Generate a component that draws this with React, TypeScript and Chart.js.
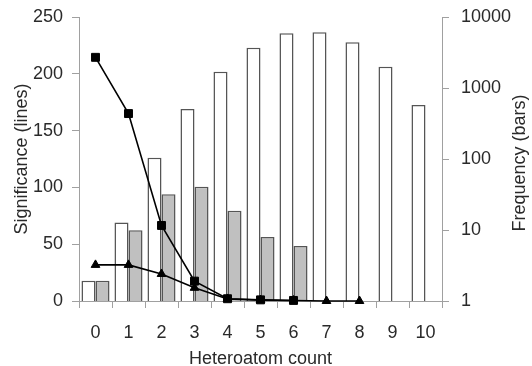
import React, { useEffect, useRef } from "react";
import { Chart, registerables } from "chart.js";

Chart.register(...registerables);

const categories = ["0", "1", "2", "3", "4", "5", "6", "7", "8", "9", "10"];
const freqAll = [1.93, 12.8, 104, 506, 1700, 3700, 5900, 6100, 4400, 2000, 576];
const freqSubset = [1.93, 9.9, 32, 40.5, 18.6, 7.95, 5.94, null, null, null, null];
const sigSquares = [214.5, 165, 66.5, 17.5, 2, 1, 0.5, null, null, null, null];
const sigTriangles = [31.8, 31.8, 23.8, 11.6, 1.8, 0.8, 0.4, 0, 0, null, null];
const leftTicks = [0, 50, 100, 150, 200, 250];
const rightTicks = [1, 10, 100, 1000, 10000];
const rightTitle = "Frequency (bars)";

const FONT = "'Liberation Sans', Arial, sans-serif";
const TEXT = "#2a2a2a";
const AXIS = "#a0a0a0";

const rightTitlePlugin = {
  id: "rightTitle",
  afterDraw(chart: any) {
    const { ctx, chartArea } = chart;
    ctx.save();
    ctx.translate(520.5, (chartArea.top + chartArea.bottom) / 2 + 4);
    ctx.rotate(-Math.PI / 2);
    ctx.font = `18px ${FONT}`;
    ctx.fillStyle = TEXT;
    ctx.textAlign = "center";
    ctx.textBaseline = "middle";
    ctx.fillText(rightTitle, 0, 0);
    ctx.restore();
  },
};

export default function App() {
  const ref = useRef<HTMLCanvasElement | null>(null);
  useEffect(() => {
    if (!ref.current) return;
    const chart = new Chart(ref.current, {
      type: "bar",
      data: {
        labels: categories,
        datasets: [
          {
            type: "line",
            data: sigSquares,
            yAxisID: "y",
            borderColor: "#000",
            borderWidth: 1.6,
            pointStyle: "rect",
            pointRadius: 5.6,
            pointBackgroundColor: "#000",
            pointBorderColor: "#000",
            pointBorderWidth: 1,
            order: 0,
            clip: false,
          } as any,
          {
            type: "line",
            data: sigTriangles,
            yAxisID: "y",
            borderColor: "#000",
            borderWidth: 1.6,
            pointStyle: "triangle",
            pointRadius: 5,
            pointBackgroundColor: "#000",
            pointBorderColor: "#000",
            pointBorderWidth: 1,
            order: 0,
            clip: false,
          } as any,
          {
            type: "bar",
            data: freqAll,
            yAxisID: "y1",
            backgroundColor: "#ffffff",
            borderColor: "#555555",
            borderWidth: 1.5,
            categoryPercentage: 0.85,
            barPercentage: 1,
            order: 1,
          },
          {
            type: "bar",
            data: freqSubset,
            yAxisID: "y1",
            backgroundColor: "#c0c0c0",
            borderColor: "#555555",
            borderWidth: 1.5,
            categoryPercentage: 0.85,
            barPercentage: 1,
            order: 1,
          },
        ],
      },
      options: {
        responsive: false,
        animation: false,
        layout: { padding: { top: 17, left: 0, right: 0, bottom: 0 } },
        plugins: { legend: { display: false }, tooltip: { enabled: false } },
        scales: {
          x: {
            offset: true,
            grid: {
              offset: true,
              drawOnChartArea: false,
              color: AXIS,
              tickLength: 7,
            },
            border: { color: AXIS, width: 1 },
            ticks: { color: TEXT, font: { family: FONT, size: 18 }, padding: 14, maxRotation: 0 },
            title: {
              display: true,
              text: "Heteroatom count",
              color: TEXT,
              font: { family: FONT, size: 18 },
              padding: { top: 0, bottom: -4 },
            },
            afterFit: (s: any) => {
              s.height = 65;
            },
          },
          y: {
            position: "left",
            min: 0,
            max: 250,
            afterBuildTicks: (s: any) => {
              s.ticks = leftTicks.map((v) => ({ value: v }));
            },
            grid: { drawOnChartArea: false, color: AXIS, tickLength: 7 },
            border: { color: AXIS, width: 1 },
            ticks: { color: TEXT, font: { family: FONT, size: 18 }, padding: 9 },
            title: {
              display: true,
              text: "Significance (lines)",
              color: TEXT,
              font: { family: FONT, size: 18 },
              padding: { top: 11, bottom: 0 },
            },
            afterFit: (s: any) => {
              s.width = 79;
              s.paddingTop = 0;
              s.paddingBottom = 0;
            },
          },
          y1: {
            type: "logarithmic",
            position: "right",
            min: 1,
            max: 10000,
            afterBuildTicks: (s: any) => {
              s.ticks = rightTicks.map((v) => ({ value: v }));
            },
            grid: { drawOnChartArea: false, color: AXIS, tickLength: 7 },
            border: { color: AXIS, width: 1 },
            ticks: {
              color: TEXT,
              font: { family: FONT, size: 18 },
              padding: 12,
              callback: (v: any) => String(v),
            },
            title: { display: false },
            afterFit: (s: any) => {
              s.width = 90;
              s.paddingTop = 0;
              s.paddingBottom = 0;
            },
          },
        },
      },
      plugins: [rightTitlePlugin],
    });
    return () => chart.destroy();
  }, []);
  return (
    <div style={{ position: "absolute", left: 0, top: 0, width: 532, height: 366, background: "#fff" }}>
      <canvas ref={ref} width={532} height={366} style={{ display: "block" }} />
    </div>
  );
}
